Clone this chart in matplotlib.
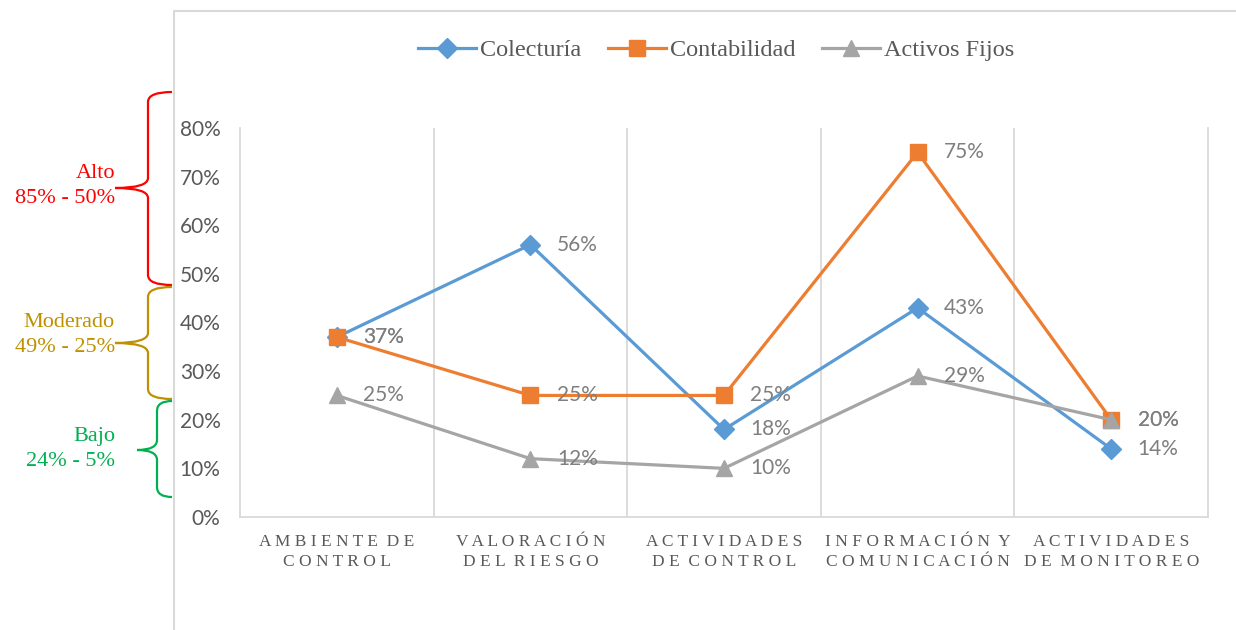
"""
plot.py

Niveles de riesgo por componente de control interno (line chart).
"""

import matplotlib
matplotlib.use("Agg")
import matplotlib.pyplot as plt
from matplotlib.path import Path
from matplotlib.patches import PathPatch
from matplotlib.ticker import FuncFormatter, FixedLocator

# data
categorias = ["AMBIENTE DE\nCONTROL", "VALORACIÓN\nDEL RIESGO",
              "ACTIVIDADES\nDE CONTROL", "INFORMACIÓN Y\nCOMUNICACIÓN",
              "ACTIVIDADES\nDE MONITOREO"]
colecturia = [0.37, 0.56, 0.18, 0.43, 0.14]
contabilidad = [0.37, 0.25, 0.25, 0.75, 0.20]
activos_fijos = [0.25, 0.12, 0.10, 0.29, 0.20]
series_nombres = ["Colecturía", "Contabilidad", "Activos Fijos"]

niveles = ["Alto", "Moderado", "Bajo"]
rangos = ["85% - 50%", "49% - 25%", "24% - 5%"]

W, H = 1236, 630
GRIS = "#d9d9d9"
TXT = "#595959"


def espaciar(texto):
    ''' Simula el espaciado de letras de Excel '''
    lineas = []
    for linea in texto.split("\n"):
        palabras = [" ".join(p) for p in linea.split(" ")]
        lineas.append("  ".join(palabras))
    return "\n".join(lineas)


def llave(ax, x_end, x_mid, x_tip, y_top, y_tip, y_bot, color, r=10):
    ''' Dibuja una llave "{" en coordenadas de pixel '''
    verts = [(x_end, y_top), (x_mid, y_top), (x_mid, y_top + r),
             (x_mid, y_tip - r), (x_mid, y_tip), (x_tip, y_tip),
             (x_mid, y_tip), (x_mid, y_tip + r),
             (x_mid, y_bot - r), (x_mid, y_bot), (x_end, y_bot)]
    codes = [Path.MOVETO, Path.CURVE3, Path.CURVE3,
             Path.LINETO, Path.CURVE3, Path.CURVE3,
             Path.CURVE3, Path.CURVE3,
             Path.LINETO, Path.CURVE3, Path.CURVE3]
    ax.add_patch(PathPatch(Path(verts, codes), fill=False, ec=color, lw=1.6))


fig = plt.figure(figsize=(W / 100, H / 100), dpi=100)

# overlay for border and braces (pixel coordinates)
over = fig.add_axes([0, 0, 1, 1])
over.set_xlim(0, W)
over.set_ylim(H, 0)
over.axis("off")
over.plot([174, 174, W], [H, 11, 11], color=GRIS, lw=1.5)

colores_nivel = ["#FF0000", "#BF9000", "#00B050"]
llaves = [(172, 148, 115, 92, 188, 285),
          (172, 148, 115, 287, 343, 399),
          (172, 157, 137, 401, 450, 497)]
texto_y = [186, 335, 449]
for (xe, xm, xt, yt, yc, yb), ty, col, niv, rng in zip(
        llaves, texto_y, colores_nivel, niveles, rangos):
    llave(over, xe, xm, xt, yt, yc, yb, col)
    over.text(115, ty, niv + "\n" + rng, color=col, ha="right",
              va="center", fontsize=16, family="Liberation Serif",
              linespacing=1.4)

# main chart
x0, x1, ytop, ybot = 240, 1208, 128, 517
ax = fig.add_axes([x0 / W, 1 - ybot / H, (x1 - x0) / W, (ybot - ytop) / H])
ax.set_xlim(-0.5, len(categorias) - 0.5)
ax.set_ylim(0, 0.8)

xs = list(range(len(categorias)))
estilos = [("#5B9BD5", "D", 10), ("#ED7D31", "s", 11), ("#A5A5A5", "^", 12)]
for vals, nombre, (col, mk, ms) in zip([colecturia, contabilidad, activos_fijos],
                                       series_nombres, estilos):
    ax.plot(xs, vals, color=col, lw=2.3, marker=mk, ms=ms, label=nombre,
            solid_joinstyle="miter", zorder=3)
    for x, v in zip(xs, vals):
        ax.annotate("{:.0%}".format(v), (x, v), xytext=(19, 0),
                    textcoords="offset points", ha="left", va="center",
                    fontsize=15, family="Lato", color="#7F7F7F", zorder=5)

ax.xaxis.set_major_locator(FixedLocator(xs))
ax.xaxis.set_minor_locator(FixedLocator([x + 0.5 for x in xs[:-1]]))
ax.set_xticks(xs)
ax.set_xticklabels([espaciar(c) for c in categorias], family="Liberation Serif",
                   fontsize=12.5, color=TXT, linespacing=1.35)
ax.grid(which="minor", axis="x", color=GRIS, lw=1.3)
ax.tick_params(axis="x", which="both", length=0, pad=12)
ax.tick_params(axis="y", length=0, pad=14, labelcolor=TXT, labelsize=15)
ax.set_yticks([i / 10 for i in range(9)])
ax.yaxis.set_major_formatter(FuncFormatter(lambda v, p: "{:.0%}".format(v)))
for lab in ax.get_yticklabels():
    lab.set_family("Lato")

for s in ["left", "bottom", "right"]:
    ax.spines[s].set_color(GRIS)
    ax.spines[s].set_linewidth(1.3)
ax.spines["top"].set_visible(False)

fig.legend(loc="center", bbox_to_anchor=(716 / W, 1 - 50 / H), ncol=3,
           frameon=False, prop={"family": "Liberation Serif", "size": 17.5},
           labelcolor=TXT, handlelength=2.4, columnspacing=1.1,
           handletextpad=0.15)

fig.savefig("out.png", dpi=100)
